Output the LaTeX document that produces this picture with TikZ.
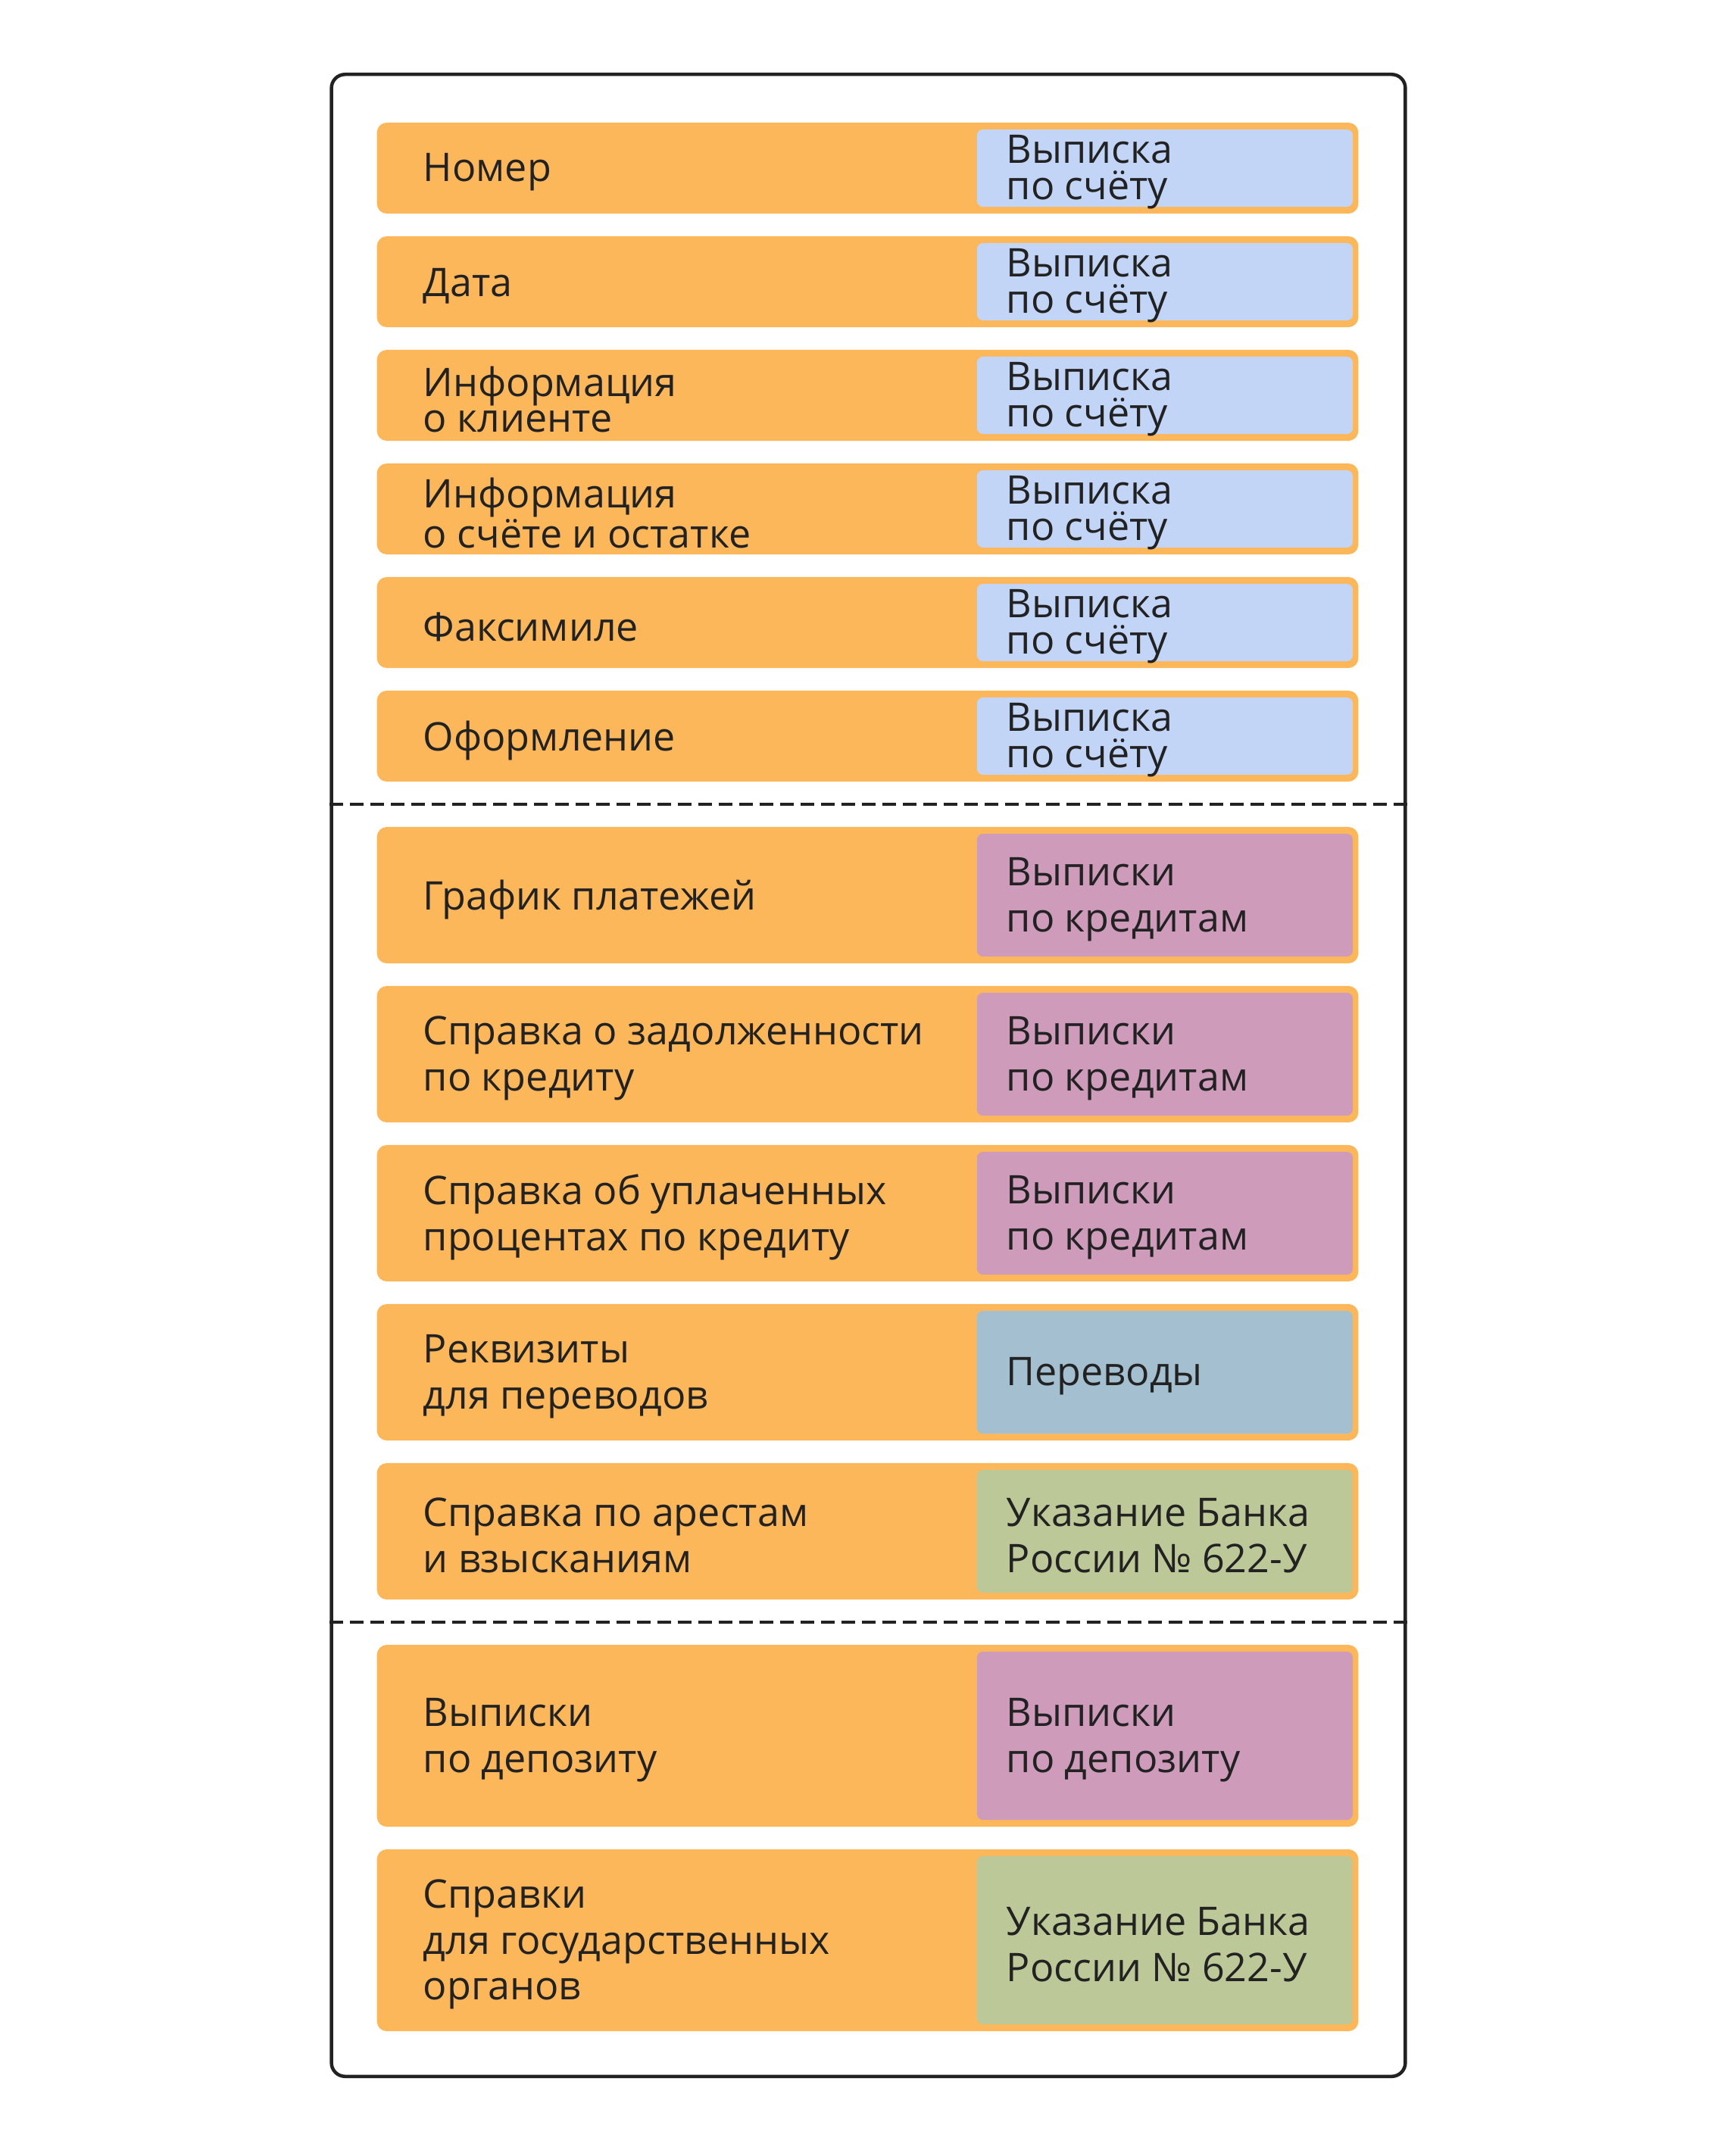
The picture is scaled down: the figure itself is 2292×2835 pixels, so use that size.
\documentclass[tikz,border=0pt]{standalone}
\usepackage{fontspec}
\setmainfont{Open Sans}
\usetikzlibrary{positioning}

\definecolor{roworange}{HTML}{FDB75B}
\definecolor{stmtblue}{HTML}{C2D5F7}
\definecolor{loanpink}{HTML}{CE9BBB}
\definecolor{transfblue}{HTML}{A3BFD0}
\definecolor{cbrgreen}{HTML}{BCC897}
\definecolor{ink}{HTML}{222222}

\begin{document}
\begin{tikzpicture}[x=0.01cm, y=-0.01cm,
    rowbox/.style={fill=roworange, rounded corners=0.13cm, minimum width=12.95cm, inner sep=0pt},
    tagbox/.style={rounded corners=0.08cm, minimum width=4.96cm, inner sep=0pt},
    txt/.style={text=ink, align=left, anchor=west, inner sep=0pt, yshift=-0.055cm, font=\fontsize{14.8}{17.3}\selectfont},
    tighttxt/.style={txt, font=\fontsize{14.8}{13.6}\selectfont},
    divider/.style={draw=ink, line width=0.045cm, dash pattern=on 0.18cm off 0.09cm}]
    \useasboundingbox (0,0) rectangle (2292,2835);

    % outer frame
    \node[draw=ink, line width=0.045cm, rounded corners=0.18cm, minimum width=14.17cm, minimum height=26.42cm] (frame) at (1146.5,1420) {};

    % account statement rows
    \foreach \n/\c/\t in {1/222/Номер, 2/372/Дата, 3/522/{Информация\\о клиенте},
        4/672/{Информация\\о счёте и остатке}, 5/822/Факсимиле, 6/972/Оформление} {
        \node[rowbox, minimum height=1.2cm] (row\n) at (1145.5,\c) {};
        \node[tagbox, fill=stmtblue, minimum height=1.02cm] (tag\n) at (1538,\c) {};
        \node[tighttxt] (doc\n) at (558,\c) {\t};
        \node[tighttxt] (src\n) at (1328,\c) {Выписка\\по счёту};
    }

    % dividers
    \coordinate (d1) at (0,1062);
    \coordinate (d2) at (0,2142);
    \draw[divider] (frame.west |- d1) -- (frame.east |- d1);
    \draw[divider] (frame.west |- d2) -- (frame.east |- d2);

    % loan and other rows
    \node[rowbox, minimum height=1.8cm] (row7) at (1145.5,1182) {};
    \node[tagbox, fill=loanpink, minimum height=1.62cm] (tag7) at (1538,1182) {};
    \node[txt] (doc7) at (558,1182) {График платежей};
    \node[txt] (src7) at (1328,1182) {Выписки\\по кредитам};

    \node[rowbox, minimum height=1.8cm] (row8) at (1145.5,1392) {};
    \node[tagbox, fill=loanpink, minimum height=1.62cm] (tag8) at (1538,1392) {};
    \node[txt] (doc8) at (558,1392) {Справка о задолженности\\по кредиту};
    \node[txt] (src8) at (1328,1392) {Выписки\\по кредитам};

    \node[rowbox, minimum height=1.8cm] (row9) at (1145.5,1602) {};
    \node[tagbox, fill=loanpink, minimum height=1.62cm] (tag9) at (1538,1602) {};
    \node[txt] (doc9) at (558,1602) {Справка об уплаченных\\процентах по кредиту};
    \node[txt] (src9) at (1328,1602) {Выписки\\по кредитам};

    \node[rowbox, minimum height=1.8cm] (row10) at (1145.5,1812) {};
    \node[tagbox, fill=transfblue, minimum height=1.62cm] (tag10) at (1538,1812) {};
    \node[txt] (doc10) at (558,1812) {Реквизиты\\для переводов};
    \node[txt] (src10) at (1328,1812) {Переводы};

    \node[rowbox, minimum height=1.8cm] (row11) at (1145.5,2022) {};
    \node[tagbox, fill=cbrgreen, minimum height=1.62cm] (tag11) at (1538,2022) {};
    \node[txt] (doc11) at (558,2022) {Справка по арестам\\и взысканиям};
    \node[txt] (src11) at (1328,2022) {Указание Банка\\России №~622-У};

    % deposit and state rows
    \node[rowbox, minimum height=2.4cm] (row12) at (1145.5,2292) {};
    \node[tagbox, fill=loanpink, minimum height=2.22cm] (tag12) at (1538,2292) {};
    \node[txt] (doc12) at (558,2292) {Выписки\\по депозиту};
    \node[txt] (src12) at (1328,2292) {Выписки\\по депозиту};

    \node[rowbox, minimum height=2.4cm] (row13) at (1145.5,2562) {};
    \node[tagbox, fill=cbrgreen, minimum height=2.22cm] (tag13) at (1538,2562) {};
    \node[txt] (doc13) at (558,2562) {Справки\\для государственных\\органов};
    \node[txt] (src13) at (1328,2562) {Указание Банка\\России №~622-У};
\end{tikzpicture}
\end{document}
